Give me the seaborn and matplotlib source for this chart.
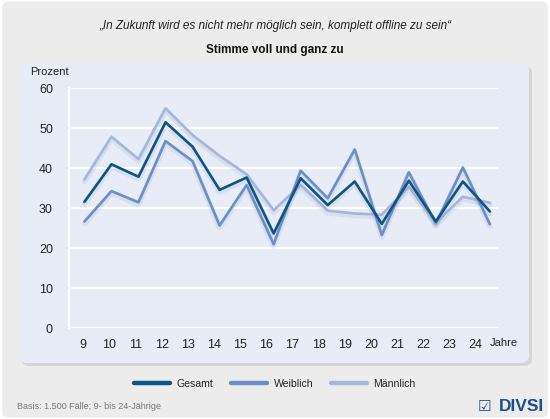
import numpy as np
import pandas as pd
import matplotlib
matplotlib.use("Agg")
import matplotlib.pyplot as plt
import matplotlib.patheffects as pe
from matplotlib.patches import FancyBboxPatch
import seaborn as sns

# Daten
alter = [9, 10, 11, 12, 13, 14, 15, 16, 17, 18, 19, 20, 21, 22, 23, 24]
gesamt = [31.6, 41.0, 37.9, 51.5, 45.4, 34.6, 37.7, 23.7, 37.5, 30.8, 36.7, 26.1, 36.9, 26.7, 36.7, 29.2]
weiblich = [26.7, 34.3, 31.5, 46.8, 41.8, 25.7, 35.8, 21.0, 39.4, 32.5, 44.7, 23.3, 39.0, 26.2, 40.2, 26.0]
maennlich = [37.2, 47.9, 42.3, 55.0, 48.3, 43.1, 38.5, 29.5, 35.8, 29.4, 28.7, 28.4, 35.4, 26.4, 32.9, 31.4]
gruppen = ["Gesamt", "Weiblich", "Männlich"]
y_ticks = [0, 10, 20, 30, 40, 50, 60]

farben = {"Gesamt": "#0d5583", "Weiblich": "#6b8fc8", "Männlich": "#a4b7df"}

def crear_df(werte, name):
    return pd.DataFrame({"Jahre": alter, "Prozent": werte, "Gruppe": name})

df = pd.concat([crear_df(gesamt, "Gesamt"), crear_df(weiblich, "Weiblich"),
                crear_df(maennlich, "Männlich")], ignore_index=True)

sns.set_style("white")
plt.rcParams['font.family'] = ['Liberation Sans', 'DejaVu Sans']

fig = plt.figure(figsize=(5.5, 4.19), dpi=100)
fig.patch.set_facecolor("white")

# Hintergrund und Panel
fig.patches.append(FancyBboxPatch((0.004, 0.004), 0.992, 0.992, boxstyle="round,pad=0,rounding_size=0.012",
                                  transform=fig.transFigure, facecolor="#ececec", edgecolor="none", zorder=-3))
fig.patches.append(FancyBboxPatch((21 / 550, 1 - 366 / 419), 511 / 550, 300 / 419,
                                  boxstyle="round,pad=0,rounding_size=0.016", transform=fig.transFigure,
                                  facecolor="#d6d6d6", edgecolor="none", zorder=-2))
fig.patches.append(FancyBboxPatch((18 / 550, 1 - 363 / 419), 511 / 550, 300 / 419,
                                  boxstyle="round,pad=0,rounding_size=0.016", transform=fig.transFigure,
                                  facecolor="#e8ecf6", edgecolor="none", zorder=-1))

ax = fig.add_axes([69.3 / 550, 1 - 328.3 / 419, 429 / 550, 240 / 419])
ax.set_facecolor("none")

sns.lineplot(data=df, x="Jahre", y="Prozent", hue="Gruppe", hue_order=gruppen[::-1],
             palette=farben, linewidth=1.9, ax=ax, legend=False,
             path_effects=[pe.SimpleLineShadow(offset=(0, -1.5), shadow_color="#8090b0", alpha=0.15,
                                               linewidth=4), pe.Normal()])

ax.set_xlim(8.44, 24.31)
ax.set_ylim(0, 60)
ax.set_yticks(y_ticks)
ax.yaxis.grid(True, color="white", linewidth=1.5)
ax.set_axisbelow(True)
for s in ["top", "right", "bottom"]:
    ax.spines[s].set_visible(False)
ax.spines["left"].set_color("white")
ax.spines["left"].set_linewidth(1.5)
ax.tick_params(axis="y", length=4.8, width=1.5, color="white", pad=7, labelsize=9, labelcolor="#222222")

xpos = [alter[0] - 0.04 + (a - alter[0]) * 0.967 for a in alter]
ax.set_xticks(xpos)
ax.set_xticklabels([str(a) for a in alter])
ax.tick_params(axis="x", length=0, pad=7.5, labelsize=9, labelcolor="#222222")
ax.set_xlabel("")
ax.set_ylabel("")
ax.text(1.013, -0.061, "Jahre", transform=ax.transAxes, ha="center", va="center", fontsize=8, color="#222222")

fig.text(30.5 / 550, 1 - 71.7 / 419, "Prozent", ha="left", va="center", fontsize=8, color="#222222")
fig.text(0.5, 1 - 26.3 / 419, "\u201eIn Zukunft wird es nicht mehr möglich sein, komplett offline zu sein\u201c",
         ha="center", va="center", fontsize=8.5, style="italic", color="#222222")
fig.text(0.5, 1 - 50 / 419, "Stimme voll und ganz zu", ha="center", va="center",
         fontsize=8.5, weight="bold", color="#111111")

# Legende
handles = [plt.Line2D([], [], color=farben[g], linewidth=3.2) for g in gruppen]
fig.legend(handles, gruppen, loc="center", bbox_to_anchor=(0.5, 1 - 384 / 419), ncol=3, frameon=False,
           fontsize=7.6, handlelength=3.4, handletextpad=0.6, columnspacing=1.7)

fig.text(17.5 / 550, 1 - 406 / 419, "Basis: 1.500 Fälle; 9- bis 24-Jährige", ha="left", va="center",
         fontsize=6.5, color="#777777")
fig.text(544 / 550, 1 - 406.7 / 419, "DIVSI", ha="right", va="center", fontsize=12.5, weight="bold",
         color="#1d4f8a")
fig.text(478 / 550, 1 - 406.7 / 419, "\u2611", ha="left", va="center", fontsize=11, weight="bold",
         color="#1d4f8a", family="DejaVu Sans")

fig.savefig("out.png", dpi=100)
